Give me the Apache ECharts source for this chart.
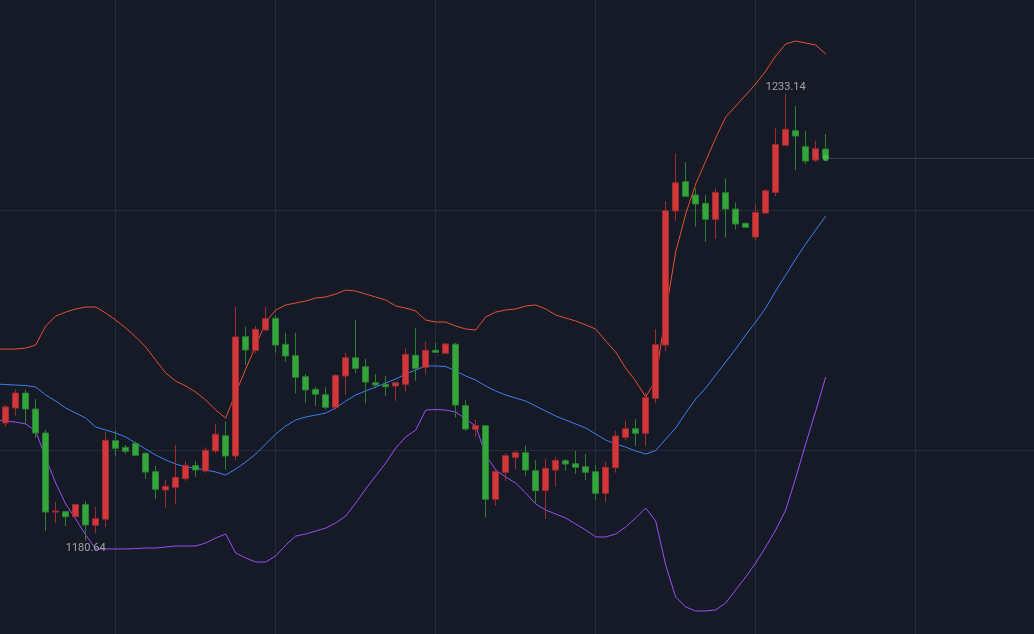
<!DOCTYPE html>
<html>
<head>
<meta charset="utf-8">
<script src="https://cdn.jsdelivr.net/npm/echarts@6/dist/echarts.min.js"></script>
<style>
html,body{margin:0;padding:0;background:#161a27;}
#c{width:1034px;height:634px;}
</style>
</head>
<body>
<div id="c"></div>
<script>
// Candles: [open, close, lowest, highest]
const candles = [
[1194.47,1196.35,1194.03,1196.58],[1196.23,1197.99,1195.32,1198.43],[1197.99,1196.11,1194.35,1198.35],[1196.11,1193.29,1192.70,1197.29],
[1193.29,1184.00,1181.77,1193.64],[1184.00,1184.12,1182.71,1185.18],[1184.04,1183.45,1182.36,1184.12],[1183.45,1184.88,1183.42,1184.94],
[1184.88,1182.48,1180.64,1185.30],[1182.44,1183.22,1181.53,1184.59],[1183.15,1192.43,1182.28,1193.44],[1192.39,1191.49,1190.59,1193.61],
[1191.61,1191.14,1190.82,1191.88],[1192.08,1190.67,1190.65,1192.29],[1190.90,1188.70,1187.88,1191.06],[1188.74,1186.67,1185.53,1189.41],
[1186.59,1187.02,1184.51,1187.76],[1186.91,1188.08,1184.94,1191.88],[1187.92,1189.49,1187.68,1190.00],[1189.45,1188.94,1188.15,1190.03],
[1188.82,1191.26,1188.62,1191.61],[1191.18,1193.14,1190.94,1194.35],[1192.97,1190.59,1188.98,1194.62],[1190.59,1204.58,1190.12,1208.10],
[1204.61,1203.05,1201.28,1205.79],[1203.01,1205.48,1202.66,1205.86],[1205.40,1206.73,1205.28,1208.14],[1206.78,1203.63,1202.73,1207.16],
[1203.72,1202.34,1201.67,1205.08],[1202.38,1199.84,1197.96,1205.08],[1199.91,1198.35,1196.85,1200.23],[1198.43,1197.84,1196.46,1198.73],
[1197.79,1196.31,1196.08,1198.66],[1196.31,1200.07,1196.08,1200.19],[1199.99,1202.14,1197.76,1202.73],[1202.14,1200.89,1200.31,1206.58],
[1201.08,1199.28,1196.78,1201.99],[1199.20,1198.93,1198.54,1200.23],[1199.01,1198.73,1197.64,1199.99],[1198.82,1199.20,1197.09,1199.20],
[1199.01,1202.54,1198.15,1203.25],[1202.43,1200.89,1199.44,1205.67],[1201.01,1203.01,1200.19,1204.02],[1203.01,1202.78,1202.78,1203.90],
[1202.66,1203.75,1202.64,1203.87],[1203.72,1196.58,1195.13,1203.90],[1196.50,1193.76,1193.53,1197.17],[1193.72,1194.15,1192.85,1194.82],
[1194.15,1185.50,1183.38,1194.17],[1185.50,1188.74,1184.75,1188.94],[1188.67,1190.62,1187.68,1190.94],[1190.43,1190.97,1189.02,1191.21],
[1190.97,1188.94,1188.27,1191.80],[1188.86,1186.51,1184.94,1190.12],[1186.55,1189.14,1183.18,1190.23],[1188.94,1190.08,1186.98,1190.50],
[1190.03,1189.64,1188.86,1190.23],[1189.68,1189.26,1188.47,1191.18],[1189.33,1188.67,1187.76,1190.82],[1188.74,1186.20,1185.41,1189.53],
[1186.20,1189.26,1185.15,1189.92],[1189.21,1192.94,1188.62,1193.53],[1192.78,1193.80,1192.46,1194.74],[1193.80,1193.26,1191.76,1194.90],
[1193.26,1197.44,1191.76,1198.07],[1197.37,1203.67,1196.78,1205.52],[1203.63,1219.42,1202.89,1220.56],[1219.39,1222.71,1218.25,1226.17],
[1222.83,1221.11,1221.03,1225.15],[1221.27,1220.21,1217.54,1222.05],[1220.29,1218.41,1215.78,1221.27],[1218.41,1221.58,1216.10,1222.05],
[1221.54,1219.62,1216.25,1223.23],[1219.62,1217.86,1217.23,1220.41],[1217.94,1217.47,1217.42,1218.06],[1216.33,1219.23,1215.98,1220.17],
[1219.15,1221.77,1219.09,1221.94],[1221.58,1227.20,1221.15,1229.14],[1227.11,1228.99,1227.03,1233.14],[1228.83,1228.20,1224.21,1231.73],
[1226.95,1225.26,1224.91,1228.79],[1225.38,1226.71,1225.18,1227.65],[1226.67,1225.62,1225.44,1228.44]
];

// Bollinger bands (first value belongs to the session just before the visible window)
const bollUpper = [1203.16,
1203.16,1203.16,1203.28,1203.63,1205.87,1207.04,1207.51,1207.87,1208.10,1208.10,1207.40,1206.57,1205.63,1204.58,1203.40,1201.87,
1200.34,1199.40,1198.82,1198.11,1197.17,1195.99,1195.05,1197.99,1200.81,1203.52,1206.34,1207.75,1208.34,1208.57,1208.81,1209.16,
1209.28,1209.63,1210.10,1209.98,1209.63,1209.28,1208.93,1208.22,1207.98,1207.63,1206.57,1206.34,1206.34,1205.87,1205.52,1205.40,
1206.93,1207.51,1207.75,1207.87,1208.22,1208.34,1207.87,1207.16,1206.81,1206.46,1205.99,1205.52,1204.11,1202.81,1200.93,1199.40,
1197.52,1199.52,1207.51,1214.57,1219.03,1222.56,1225.26,1227.97,1230.44,1231.73,1233.02,1234.32,1235.84,1237.61,1239.02,1239.37,
1239.14,1238.90,1237.84];
const bollMid = [1199.05,
1198.99,1198.93,1198.87,1198.70,1197.76,1197.05,1196.23,1195.64,1195.05,1194.00,1193.64,1193.29,1192.82,1192.11,1191.41,1190.70,
1190.12,1189.65,1189.29,1189.18,1188.94,1188.71,1188.35,1189.06,1189.88,1190.82,1192.00,1193.17,1194.11,1194.82,1195.17,1195.40,
1195.64,1196.23,1197.05,1197.76,1198.23,1198.70,1199.17,1199.64,1200.23,1200.70,1201.17,1201.17,1201.11,1200.58,1199.99,1199.52,
1198.82,1198.23,1197.76,1197.40,1197.05,1196.46,1195.87,1195.29,1194.82,1194.35,1193.88,1193.17,1192.47,1192.00,1191.64,1191.17,
1190.82,1191.23,1192.58,1193.88,1195.64,1197.29,1198.58,1200.11,1201.64,1203.16,1204.81,1206.34,1207.98,1209.98,1211.86,1213.74,
1215.51,1217.15,1218.80];
const bollLower = [1194.82,
1194.70,1194.58,1194.35,1193.53,1190.35,1187.41,1184.94,1183.18,1181.30,1179.66,1179.66,1179.66,1179.66,1179.71,1179.77,1179.77,
1179.89,1180.01,1180.01,1180.01,1180.36,1180.95,1181.42,1179.18,1178.60,1178.13,1178.13,1178.83,1180.12,1181.18,1181.42,1181.77,
1182.12,1182.71,1183.53,1185.06,1186.71,1188.24,1189.77,1191.53,1192.82,1193.64,1195.99,1196.05,1195.99,1195.76,1194.94,1194.11,
1190.70,1188.94,1188.12,1187.41,1186.24,1184.94,1184.24,1183.77,1183.30,1182.59,1181.89,1181.07,1181.07,1181.42,1182.24,1183.30,
1184.47,1182.94,1177.77,1174.01,1172.84,1172.37,1172.37,1172.49,1173.31,1174.84,1176.37,1178.01,1179.89,1181.89,1184.24,1188.00,
1191.99,1195.87,1199.87];

// Category axis: one session before the window, the 83 visible sessions, then empty future slots
const LEAD = 1, FUTURE = 21;
const categories = [];
(function () {
  const d = new Date(Date.UTC(2023, 0, 2));
  const total = LEAD + candles.length + FUTURE;
  while (categories.length < total) {
    const wd = d.getUTCDay();
    if (wd !== 0 && wd !== 6) categories.push(d.toISOString().slice(0, 10));
    d.setUTCDate(d.getUTCDate() + 1);
  }
})();

const candleData = ['-'].concat(candles);
const lastIdx = LEAD + candles.length - 1;
const lastClose = candles[candles.length - 1][1];

const UP = '#d4373a', DOWN = '#34a63b';
const UP_EDGE = '#9c2c30', DOWN_EDGE = '#2a8030';
const chart = echarts.init(document.getElementById('c'), null, {renderer: 'canvas'});
chart.setOption({
  backgroundColor: '#161a27',
  animation: false,
  grid: {left: -4.3, right: -1.7, top: -30, bottom: -56, containLabel: false, outerBoundsMode: 'none'},
  xAxis: [{
    type: 'category', data: categories, boundaryGap: false,
    axisLine: {show: false}, axisTick: {show: false}, axisLabel: {show: false},
    splitLine: {show: true, interval: function (i) { return i % 16 === 12; },
      lineStyle: {color: '#262b38', width: 1}}
  }],
  yAxis: [{
    type: 'value', min: 1163.08, max: 1247.72,
    axisLine: {show: false}, axisTick: {show: false}, axisLabel: {show: false},
    splitLine: {show: false}
  }, {
    type: 'value', min: 0, max: 3, interval: 1,
    axisLine: {show: false}, axisTick: {show: false}, axisLabel: {show: false},
    splitLine: {show: true, lineStyle: {color: '#262b38', width: 1}}
  }],
  series: [
    {
      type: 'line', name: 'UP', data: bollUpper, showSymbol: false, symbol: 'none',
      lineStyle: {color: '#e2512f', width: 1}, z: 3
    },
    {
      type: 'line', name: 'MID', data: bollMid, showSymbol: false, symbol: 'none',
      lineStyle: {color: '#3b7ff2', width: 1}, z: 3
    },
    {
      type: 'line', name: 'LOW', data: bollLower, showSymbol: false, symbol: 'none',
      lineStyle: {color: '#9b4df5', width: 1}, z: 3
    },
    {
      type: 'candlestick', name: 'K', data: candleData, barWidth: 7, z: 4,
      itemStyle: {color: UP, color0: DOWN, borderColor: UP_EDGE, borderColor0: DOWN_EDGE, borderColorDoji: UP_EDGE, borderWidth: 1},
      markPoint: {
        symbol: 'circle', symbolSize: 1,
        itemStyle: {color: 'rgba(0,0,0,0)'},
        label: {show: true, color: '#9ea2ab', fontSize: 11, fontFamily: 'Roboto, sans-serif',
          formatter: function (p) { return p.value.toFixed(2); }},
        data: [
          {type: 'max', valueDim: 'highest', label: {position: 'top', distance: 1}},
          {type: 'min', valueDim: 'lowest', label: {position: 'bottom', distance: 2}}
        ]
      },
      markLine: {
        symbol: ['none', 'none'], silent: true,
        label: {show: false},
        lineStyle: {color: '#343946', width: 1, type: 'solid'},
        data: [[{coord: [categories[lastIdx], lastClose]}, {coord: [categories[categories.length - 1], lastClose]}]]
      }
    },
    {
      type: 'scatter', data: [[categories[lastIdx], lastClose]], symbolSize: 6, z: 6,
      itemStyle: {color: '#46c94c', shadowBlur: 26, shadowColor: 'rgba(60,200,70,0.8)'}
    }
  ]
});
</script>
</body>
</html>
